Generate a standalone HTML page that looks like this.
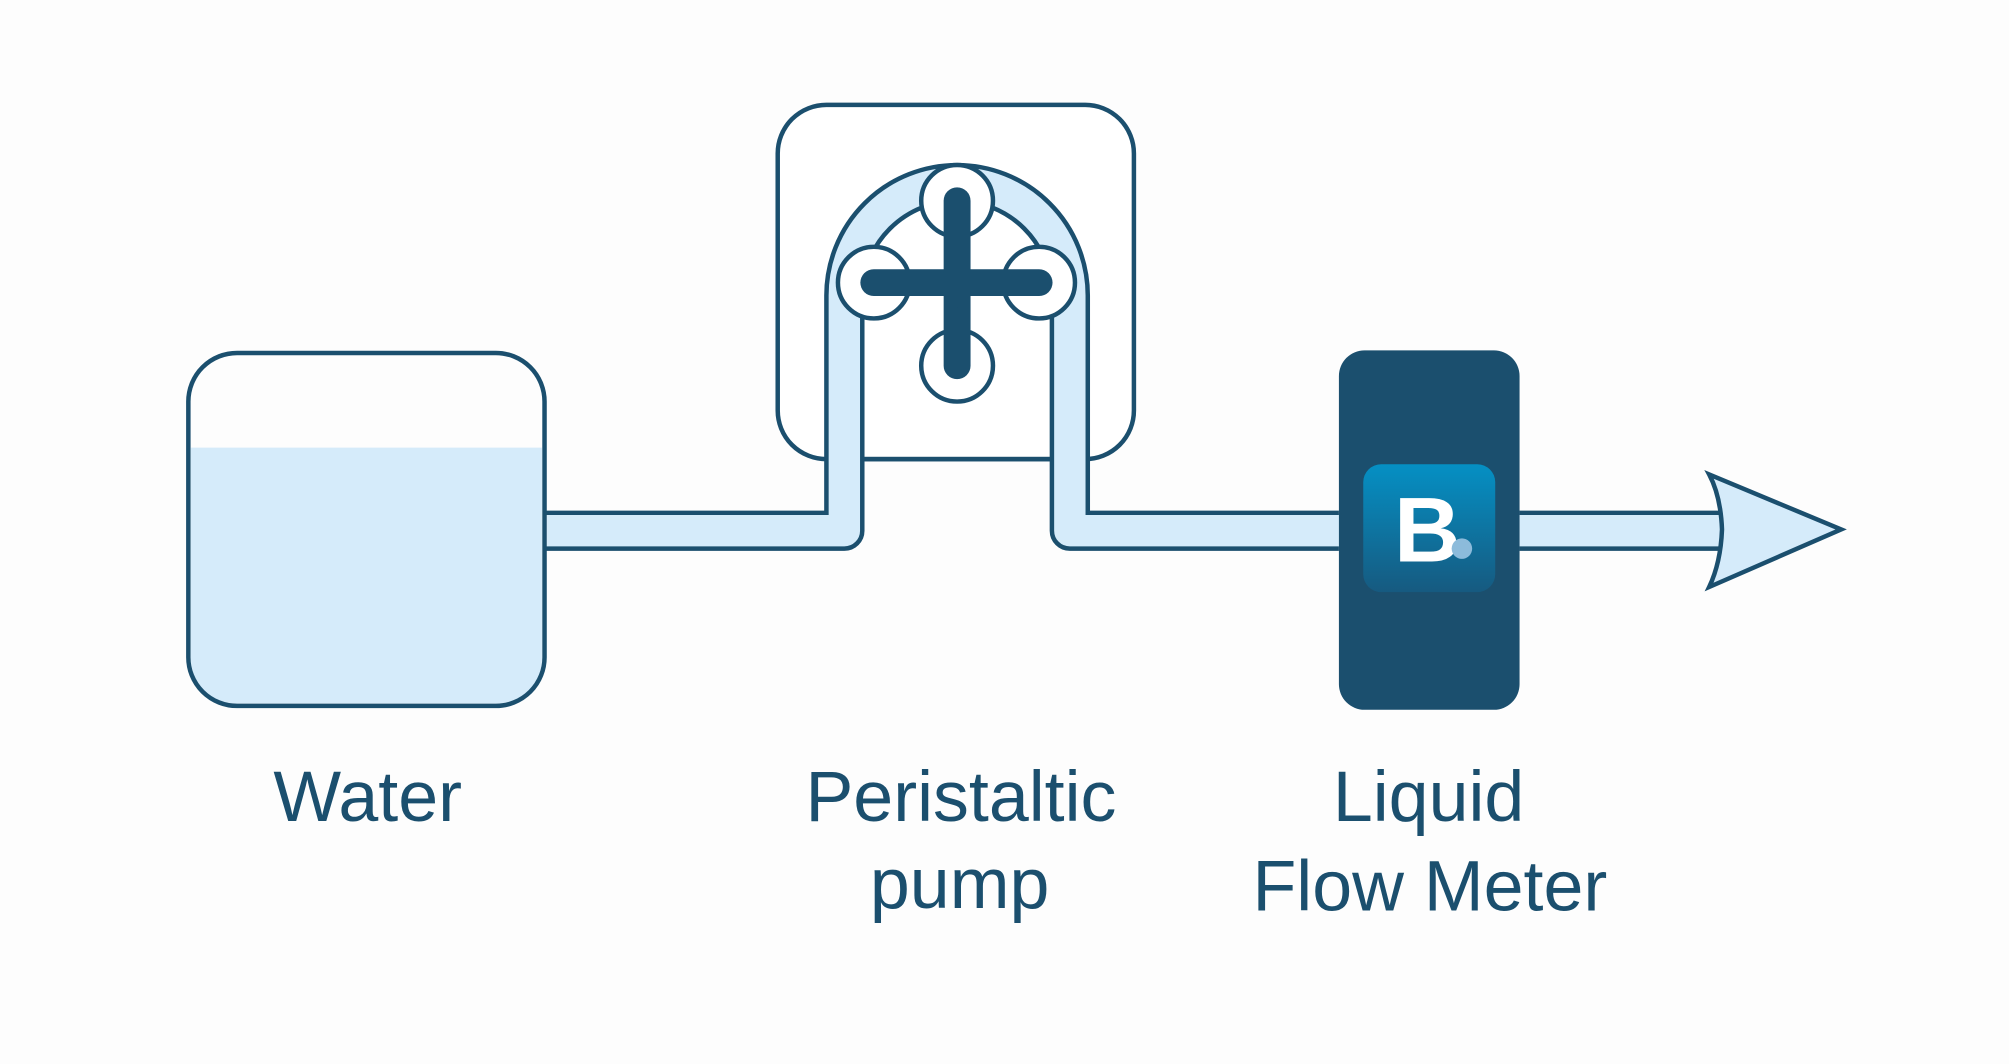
<!DOCTYPE html>
<html><head><meta charset="utf-8"><style>html,body{margin:0;padding:0;background:#fdfdfd}svg{display:block}</style></head>
<body>
<svg width="2009" height="1064" viewBox="0 0 1568 832" preserveAspectRatio="none" xmlns="http://www.w3.org/2000/svg">
<defs>
<linearGradient id="g" x1="0" y1="0" x2="0" y2="1"><stop offset="0" stop-color="#0590c4"/><stop offset="1" stop-color="#165a80"/></linearGradient>
</defs>
<rect width="1568" height="832" fill="#fdfdfd"/>
<g stroke="#1b4f6e" stroke-width="3.5" fill="none">
<path d="M149 350 H423 V515 a35 35 0 0 1 -35 35 H184 a35 35 0 0 1 -35 -35 Z" fill="#d5ebfa" stroke="none"/>
<rect x="607" y="82" width="278" height="277" rx="38" fill="#fff"/>
<path d="M427 401 H645 V231 A102 102 0 0 1 849 231 V401 H1045 V429 H835 a14 14 0 0 1 -14 -14 V231 A74 74 0 0 0 673 231 V415 a14 14 0 0 1 -14 14 H427 Z" fill="#d5ebfa" stroke="none"/>
<rect x="147" y="276" width="278" height="276" rx="38"/>
<path d="M425 401 H645 V231 A102 102 0 0 1 849 231 V401 H1045"/>
<path d="M425 429 H659 a14 14 0 0 0 14 -14 V231 A74 74 0 0 1 821 231 V415 a14 14 0 0 0 14 14 H1045"/>
<line x1="673" y1="359" x2="821" y2="359"/>
<circle cx="747" cy="157" r="28" fill="#fff"/>
<circle cx="682" cy="221" r="28" fill="#fff"/>
<circle cx="811" cy="221" r="28" fill="#fff"/>
<circle cx="747" cy="286" r="28" fill="#fff"/>
</g>
<g stroke="#1b4f6e" stroke-linecap="round" stroke-width="21">
<line x1="747" y1="157" x2="747" y2="286"/>
<line x1="682" y1="221" x2="811" y2="221"/>
</g>
<rect x="733" y="207" width="28" height="28" fill="#1b4f6e" transform="rotate(45 747 221)"/>
<path d="M1186 401 H1343 V429 H1186 Z" fill="#d5ebfa"/>
<path d="M1186 401 H1343 M1186 429 H1343" stroke="#1b4f6e" stroke-width="3.5"/>
<path d="M1334 371 Q1343 388 1344 414 Q1343 440 1334 459 L1437 414 Z" fill="#d5ebfa" stroke="#1b4f6e" stroke-width="3.5"/>
<rect x="1045" y="274" width="141" height="281" rx="20" fill="#1b4f6e"/>
<rect x="1064" y="363" width="103" height="100" rx="14" fill="url(#g)"/>
<text x="1088" y="439" font-family="Liberation Sans, sans-serif" font-weight="bold" font-size="72" fill="#fff">B</text>
<circle cx="1141" cy="429" r="8" fill="#8cbbdb"/>
<g font-family="Liberation Sans, sans-serif" font-size="56" fill="#1b4f6e" text-anchor="middle">
<text x="287" y="642">Water</text>
<text x="750" y="642">Peristaltic</text>
<text x="749" y="710">pump</text>
<text x="1115" y="642">Liquid</text>
<text x="1116" y="712">Flow Meter</text>
</g>
</svg>
</body></html>
